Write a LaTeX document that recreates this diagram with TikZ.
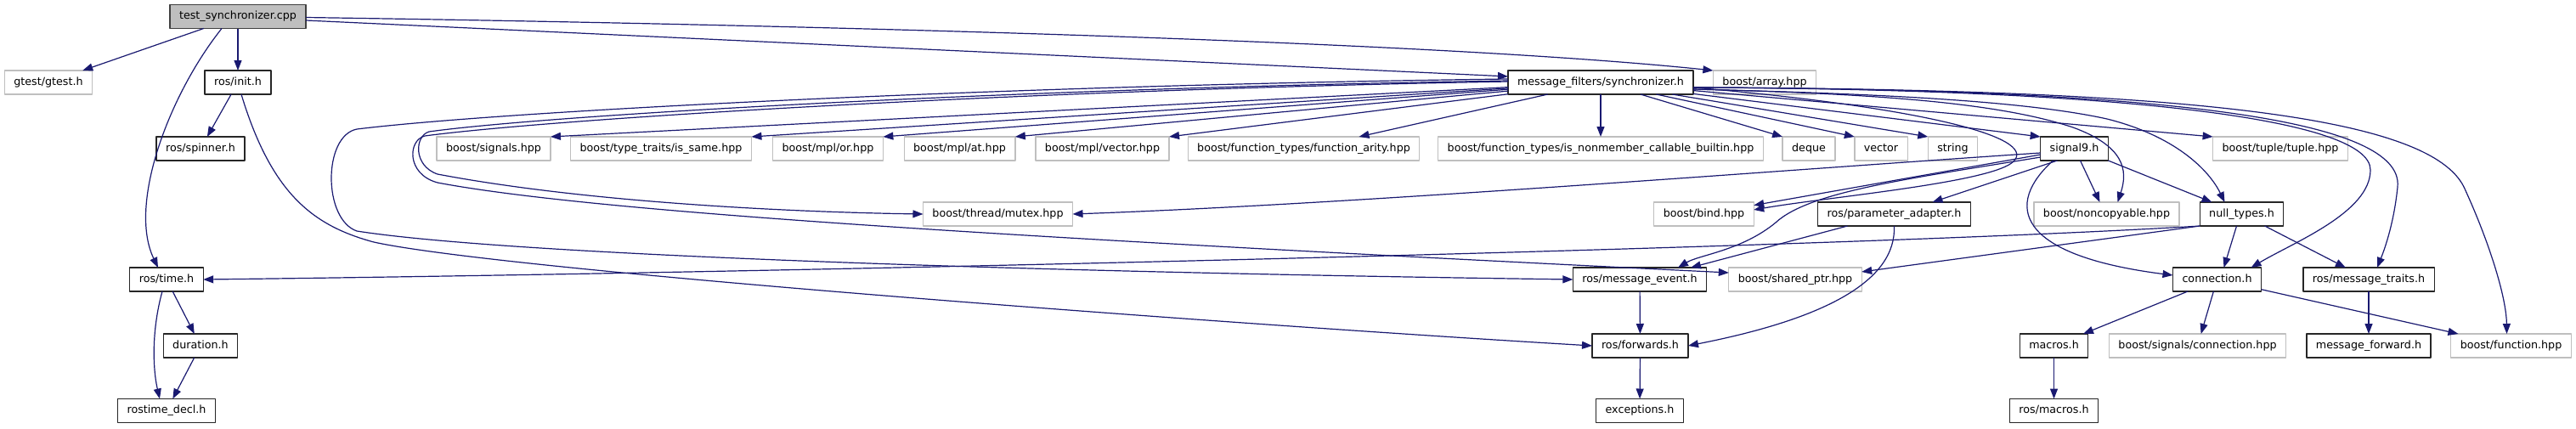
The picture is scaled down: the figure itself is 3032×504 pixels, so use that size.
\documentclass[tikz,border=0pt]{standalone}
\usepackage{fontspec}
\setmainfont{DejaVu Sans}
\usepackage{xcolor}
\usepackage{tikz}
\usetikzlibrary{arrows.meta}
\definecolor{midblue}{HTML}{191970}
\definecolor{extgray}{HTML}{BFBFBF}

\begin{document}
\begin{tikzpicture}[x=1pt, y=-1pt, >={Triangle[length=12pt,width=9pt]}, line join=round,
  box/.style={rectangle, fill=white, line width=1.3pt, inner xsep=11pt, inner ysep=0pt, outer sep=0pt,
    minimum height=28pt, text height=9.4pt, text depth=2.9pt, font=\fontsize{12.7}{15}\selectfont},
  hdr/.style={box, draw=black!85},
  ext/.style={box, draw=extgray},
  rootbox/.style={box, draw=black!75, fill=extgray},
  inc/.style={->, draw=midblue, line width=1.2pt}]
  \useasboundingbox (0,0) rectangle (3032,504);
  \node[rootbox] (tsync) at (280,19.5) {test\_synchronizer.cpp};
  \node[ext] (gtest) at (57,97) {gtest/gtest.h};
  \node[hdr] (rinit) at (280,97) {ros/init.h};
  \node[hdr] (sync) at (1884,97) {message\_filters/synchronizer.h};
  \node[ext] (barray) at (2077,97) {boost/array.hpp};
  \node[hdr] (spinner) at (236,175) {ros/spinner.h};
  \node[ext] (bsignals) at (581,175) {boost/signals.hpp};
  \node[ext] (issame) at (778,175) {boost/type\_traits/is\_same.hpp};
  \node[ext] (mplor) at (974.5,175) {boost/mpl/or.hpp};
  \node[ext] (mplat) at (1129.5,175) {boost/mpl/at.hpp};
  \node[ext] (mplvec) at (1297.5,175) {boost/mpl/vector.hpp};
  \node[ext] (farity) at (1534.5,175) {boost/function\_types/function\_arity.hpp};
  \node[ext] (isnonmem) at (1884,175) {boost/function\_types/is\_nonmember\_callable\_builtin.hpp};
  \node[ext] (deque) at (2129,175) {deque};
  \node[ext] (vec) at (2214,175) {vector};
  \node[ext] (str) at (2298.5,175) {string};
  \node[hdr] (sig9) at (2441.5,175) {signal9.h};
  \node[ext] (tuple) at (2684,175) {boost/tuple/tuple.hpp};
  \node[ext] (mutex) at (1174.5,252) {boost/thread/mutex.hpp};
  \node[ext] (bind) at (2005.5,252) {boost/bind.hpp};
  \node[hdr] (padapt) at (2229.5,252) {ros/parameter\_adapter.h};
  \node[ext] (noncopy) at (2479.5,252) {boost/noncopyable.hpp};
  \node[hdr] (nulltypes) at (2638.5,252) {null\_types.h};
  \node[hdr] (rtime) at (196,329) {ros/time.h};
  \node[hdr] (mevent) at (1930,329) {ros/message\_event.h};
  \node[ext] (sptr) at (2113,329) {boost/shared\_ptr.hpp};
  \node[hdr] (conn) at (2609.5,329) {connection.h};
  \node[hdr] (mtraits) at (2788,329) {ros/message\_traits.h};
  \node[hdr] (duration) at (236,407) {duration.h};
  \node[hdr] (forwards) at (1930.5,407) {ros/forwards.h};
  \node[hdr] (macros) at (2417.5,407) {macros.h};
  \node[ext] (sigconn) at (2586.5,407) {boost/signals/connection.hpp};
  \node[hdr] (mfwd) at (2788,407) {message\_forward.h};
  \node[ext] (bfunc) at (2955.5,407) {boost/function.hpp};
  \node[hdr] (decl) at (196,483.5) {rostime\_decl.h};
  \node[hdr] (exceptions) at (1930,483.5) {exceptions.h};
  \node[hdr] (rmacros) at (2417.5,483.5) {ros/macros.h};
  \draw[inc] (tsync) -- (gtest);
  \draw[inc] (tsync) -- (rinit);
  \draw[inc] ([xshift=-19pt]tsync.south) .. controls (200,110) and (150,240) .. ([xshift=-10pt]rtime.north);
  \draw[inc] ([yshift=-4.5pt]tsync.east) -- ([yshift=7pt]sync.west);
  \draw[inc] ([yshift=-1pt]tsync.east) .. controls (1000,30) and (1700,50) .. (barray.north west);
  \draw[inc] (rinit) -- (spinner);
  \draw[inc] ([xshift=4pt]rinit.south) .. controls (320,230) and (370,266) .. (440,285) .. controls (600,320) and (1500,385) .. (forwards.west);
  \draw[inc] (rtime) -- (duration);
  \draw[inc] ([xshift=-5pt]rtime.south) .. controls (178,390) and (180,435) .. ([xshift=-8pt]decl.north);
  \draw[inc] (duration) -- (decl);
  \draw[inc] (sync) -- (bsignals.north east);
  \draw[inc] (sync) -- (issame.north east);
  \draw[inc] (sync) -- (mplor.north east);
  \draw[inc] (sync) -- (mplat.north east);
  \draw[inc] (sync) -- (mplvec.north east);
  \draw[inc] (sync) -- ([xshift=65pt]farity.north);
  \draw[inc] (sync) -- (isnonmem);
  \draw[inc] (sync) -- (deque.north west);
  \draw[inc] (sync) -- (vec.north west);
  \draw[inc] (sync) -- (str.north west);
  \draw[inc] (sync) -- (sig9.north west);
  \draw[inc] (sync) -- (tuple.north west);
  \draw[inc] ([yshift=-6pt]sync.east) .. controls (2250,125) and (2400,160) .. (2370,190) .. controls (2345,215) and (2150,232) .. ([yshift=5pt]bind.east);
  \draw[inc] ([yshift=-8pt]sync.east) .. controls (2200,110) and (2350,120) .. (2440,150) .. controls (2500,172) and (2505,200) .. ([xshift=13pt]noncopy.north);
  \draw[inc] ([yshift=-8pt]sync.east) .. controls (2200,110) and (2380,118) .. (2480,140) .. controls (2560,160) and (2600,200) .. ([xshift=-20pt]nulltypes.north);
  \draw[inc] ([yshift=-6pt]sync.east) .. controls (2500,105) and (2790,140) .. (2790,200) .. controls (2790,250) and (2700,285) .. ([xshift=40pt]conn.north);
  \draw[inc] ([yshift=-6pt]sync.east) .. controls (2550,105) and (2830,140) .. (2822,220) .. controls (2818,260) and (2808,290) .. ([xshift=10pt]mtraits.north);
  \draw[inc] ([yshift=-6pt]sync.east) .. controls (2600,105) and (2860,140) .. (2900,220) .. controls (2930,285) and (2950,350) .. ([xshift=-5pt]bfunc.north);
  \draw[inc] ([yshift=2pt]sync.west) .. controls (1200,104) and (650,135) .. (505,155) .. controls (488,160) and (486,195) .. (515,205) .. controls (700,240) and (950,250) .. (mutex.west);
  \draw[inc] ([yshift=1pt]sync.west) .. controls (1200,106) and (650,140) .. (500,160) .. controls (480,165) and (478,205) .. (515,215) .. controls (700,250) and (1200,280) .. ([yshift=8pt]sptr.west);
  \draw[inc] ([yshift=4pt]sync.west) .. controls (1200,100) and (600,130) .. (420,152) .. controls (380,160) and (380,258) .. (420,272) .. controls (600,300) and (1200,320) .. (mevent.west);
  \draw[inc] (nulltypes.south west) .. controls (2200,290) and (1000,320) .. (rtime.east);
  \draw[inc] (nulltypes.south west) -- ([yshift=9pt]sptr.east);
  \draw[inc] ([xshift=-6pt]nulltypes.south) -- ([xshift=8pt]conn.north);
  \draw[inc] (nulltypes) -- (mtraits);
  \draw[inc] (sig9) -- (bind);
  \draw[inc] ([yshift=-10pt]sig9.west) .. controls (2250,210) and (2130,225) .. (2090,262) .. controls (2050,295) and (2000,300) .. ([xshift=45pt]mevent.north);
  \draw[inc] ([yshift=-5pt]sig9.west) .. controls (2100,200) and (1600,240) .. (mutex.east);
  \draw[inc] ([xshift=-20pt]sig9.south) -- ([xshift=45pt]padapt.north);
  \draw[inc] ([xshift=7pt]sig9.south) -- ([xshift=-8pt]noncopy.north);
  \draw[inc] (sig9.south east) -- ([xshift=-35pt]nulltypes.north);
  \draw[inc] ([xshift=-25pt]sig9.south) .. controls (2360,240) and (2370,300) .. ([yshift=5pt]conn.west);
  \draw[inc] ([xshift=-55pt]padapt.south) -- ([xshift=60pt]mevent.north);
  \draw[inc] (padapt.south) .. controls (2232,330) and (2150,375) .. (forwards.east);
  \draw[inc] (mevent) -- (forwards);
  \draw[inc] (forwards) -- (exceptions);
  \draw[inc] (conn) -- (macros);
  \draw[inc] (conn) -- (sigconn);
  \draw[inc] (conn) -- (bfunc);
  \draw[inc] (mtraits) -- (mfwd);
  \draw[inc] (macros) -- (rmacros);
\end{tikzpicture}
\end{document}
